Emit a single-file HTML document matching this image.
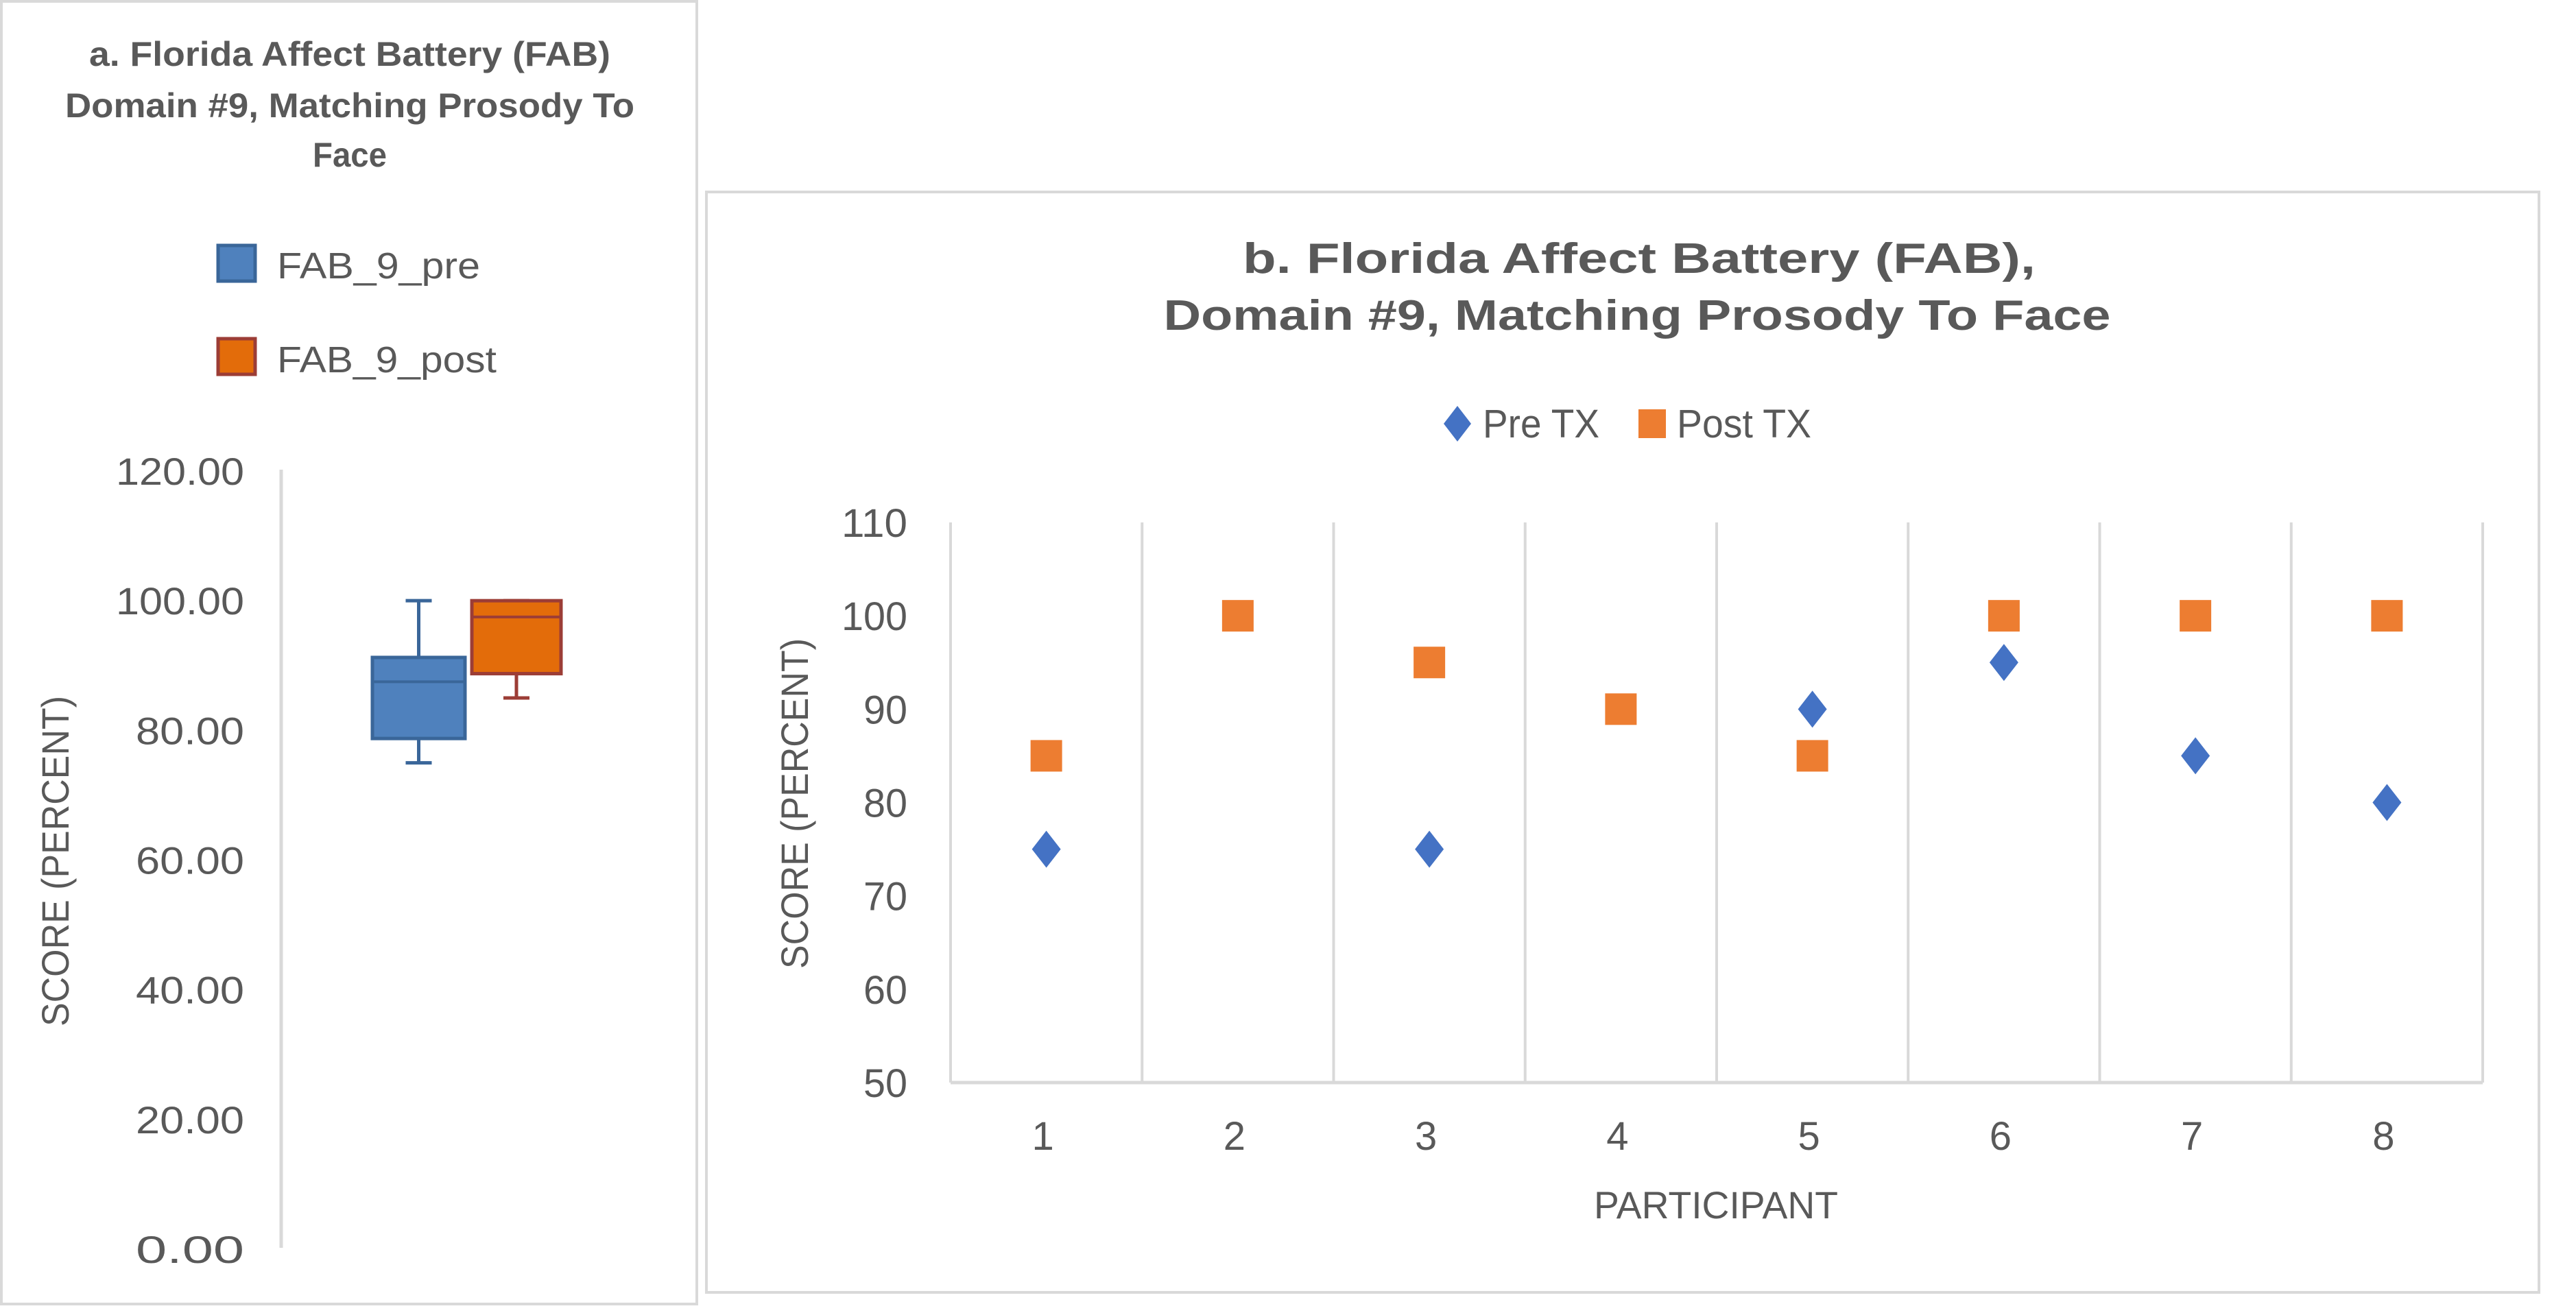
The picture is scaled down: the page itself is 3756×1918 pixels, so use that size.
<!DOCTYPE html>
<html><head><meta charset="utf-8"><style>
html,body{margin:0;padding:0;background:#fff;}
svg{display:block;font-family:"Liberation Sans",sans-serif;}
</style></head><body>
<svg id="fig" width="3756" height="1918" viewBox="0 0 3756 1918" xmlns="http://www.w3.org/2000/svg">
  <rect x="0" y="0" width="3756" height="1918" fill="#fff"/>
  <g>
    <rect x="2" y="2" width="1014" height="1900" fill="#fff" stroke="#d9d9d9" stroke-width="4"/>
    <text x="510" y="96" text-anchor="middle" font-size="50" font-weight="bold" fill="#595959" textLength="760" lengthAdjust="spacingAndGlyphs">a.  Florida Affect Battery (FAB)</text>
    <text x="510" y="171" text-anchor="middle" font-size="50" font-weight="bold" fill="#595959" textLength="830" lengthAdjust="spacingAndGlyphs">Domain #9, Matching Prosody To</text>
    <text x="510" y="243" text-anchor="middle" font-size="50" font-weight="bold" fill="#595959" textLength="108" lengthAdjust="spacingAndGlyphs">Face</text>
    <g>
      <rect x="318" y="358" width="54" height="52" fill="#4f81bd" stroke="#3a6699" stroke-width="5"/>
      <text x="404" y="406" font-size="54" fill="#595959" textLength="296" lengthAdjust="spacingAndGlyphs">FAB_9_pre</text>
    </g>
    <g>
      <rect x="318" y="494" width="54" height="52" fill="#e36c0a" stroke="#9c3d36" stroke-width="5"/>
      <text x="404" y="543" font-size="54" fill="#595959" textLength="320" lengthAdjust="spacingAndGlyphs">FAB_9_post</text>
    </g>
    <line x1="410" y1="685" x2="410" y2="1820" stroke="#d9d9d9" stroke-width="5"/>
    <g id="aTicks"></g>
    <text transform="translate(100,1256) rotate(-90)" text-anchor="middle" font-size="56" fill="#595959" textLength="482" lengthAdjust="spacingAndGlyphs">SCORE (PERCENT)</text>
    <g id="aBoxes"></g>
  </g>
  <g>
    <rect x="1030" y="280" width="2672" height="1605" fill="#fff" stroke="#d9d9d9" stroke-width="4"/>
    <text x="2390" y="398" text-anchor="middle" font-size="62" font-weight="bold" fill="#595959" textLength="1156" lengthAdjust="spacingAndGlyphs">b.  Florida Affect Battery (FAB),</text>
    <text x="2387" y="481" text-anchor="middle" font-size="62" font-weight="bold" fill="#595959" textLength="1381" lengthAdjust="spacingAndGlyphs">Domain #9, Matching Prosody To Face</text>
    <g>
      <polygon points="2125,592 2145,618 2125,644 2105,618" fill="#4472c4"/>
      <text x="2162" y="638" font-size="58" fill="#595959" textLength="170" lengthAdjust="spacingAndGlyphs">Pre TX</text>
    </g>
    <g>
      <rect x="2389" y="597" width="40" height="42" fill="#ed7d31"/>
      <text x="2445" y="638" font-size="58" fill="#595959" textLength="196" lengthAdjust="spacingAndGlyphs">Post TX</text>
    </g>
    <g id="bGrid"></g>
    <g id="bTicks"></g>
    <text transform="translate(1178,1172) rotate(-90)" text-anchor="middle" font-size="56" fill="#595959" textLength="482" lengthAdjust="spacingAndGlyphs">SCORE (PERCENT)</text>
    <text x="2502" y="1777" text-anchor="middle" font-size="56" fill="#595959" textLength="356" lengthAdjust="spacingAndGlyphs">PARTICIPANT</text>
    <g id="bMarks"></g>
  </g>
</svg>
<script>
const aTickValues = [0, 20, 40, 60, 80, 100, 120];
const aTickLabels = ["0.00", "20.00", "40.00", "60.00", "80.00", "100.00", "120.00"];
const boxNames = ["FAB_9_pre", "FAB_9_post"];
const boxMin = [75, 85];
const boxQ1 = [78.75, 88.75];
const boxMedian = [87.5, 97.5];
const boxQ3 = [91.25, 100];
const boxMax = [100, 100];
const participants = ["1", "2", "3", "4", "5", "6", "7", "8"];
const preTX = [75, null, 75, null, 90, 95, 85, 80];
const postTX = [85, 100, 95, 90, 85, 100, 100, 100];
const bTickValues = [50, 60, 70, 80, 90, 100, 110];

const NS = "http://www.w3.org/2000/svg";
function mk(tag, attrs, parent) {
  const e = document.createElementNS(NS, tag);
  for (const k in attrs) e.setAttribute(k, attrs[k]);
  parent.appendChild(e);
  return e;
}
const aY = v => 1822 - (v - 0) * (1822 - 687) / 120;
const aBoxLeft = [543, 688], aBoxW = [135, 130];
const aTicks = document.getElementById("aTicks");
aTickValues.forEach((v, i) => {
  const t = mk("text", {x: 356, y: aY(v) + 20, "text-anchor": "end", "font-size": 56, fill: "#595959", textLength: aTickLabels[i].length === 6 ? 187 : 158, lengthAdjust: "spacingAndGlyphs"}, aTicks);
  t.textContent = aTickLabels[i];
  
  
});
const aBoxes = document.getElementById("aBoxes");
const fills = ["#4f81bd", "#e36c0a"], strokes = ["#3a6699", "#9c3d36"];
boxNames.forEach((n, i) => {
  const g = mk("g", {}, aBoxes);
  
  
  const x0 = aBoxLeft[i], w = aBoxW[i], cx = x0 + w / 2;
  mk("line", {x1: cx, x2: cx, y1: aY(boxMax[i]), y2: aY(boxQ3[i]), stroke: strokes[i], "stroke-width": 5}, g);
  mk("line", {x1: cx, x2: cx, y1: aY(boxQ1[i]), y2: aY(boxMin[i]), stroke: strokes[i], "stroke-width": 5}, g);
  mk("line", {x1: cx - 19, x2: cx + 19, y1: aY(boxMax[i]), y2: aY(boxMax[i]), stroke: strokes[i], "stroke-width": 5}, g);
  mk("line", {x1: cx - 19, x2: cx + 19, y1: aY(boxMin[i]), y2: aY(boxMin[i]), stroke: strokes[i], "stroke-width": 5}, g);
  mk("rect", {x: x0, y: aY(boxQ3[i]), width: w, height: aY(boxQ1[i]) - aY(boxQ3[i]), fill: fills[i], stroke: strokes[i], "stroke-width": 5}, g);
  mk("line", {x1: x0, x2: x0 + w, y1: aY(boxMedian[i]), y2: aY(boxMedian[i]), stroke: strokes[i], "stroke-width": 4}, g);
});
const bL = 1386, bR = 3620, bTop = 762, bBot = 1579;
const bY = v => bBot - (v - 50) * (bBot - bTop) / 60;
const bw = (bR - bL) / participants.length;
const bX = i => bL + bw * (i + 0.5);
const bGrid = document.getElementById("bGrid");
for (let i = 0; i <= participants.length; i++) {
  const l = mk("line", {x1: bL + bw * i, x2: bL + bw * i, y1: bTop, y2: bBot, stroke: "#d9d9d9", "stroke-width": 4}, bGrid);
  
  
}
const xa = mk("line", {x1: bL, x2: bR, y1: bBot, y2: bBot, stroke: "#d9d9d9", "stroke-width": 5}, bGrid);


const bTicks = document.getElementById("bTicks");
bTickValues.forEach(v => {
  const t = mk("text", {x: 1323, y: bY(v) + 21, "text-anchor": "end", "font-size": 58, fill: "#595959", textLength: String(v).length * 32, lengthAdjust: "spacingAndGlyphs"}, bTicks);
  t.textContent = String(v);
  
  
});
participants.forEach((p, i) => {
  const t = mk("text", {x: bX(i) - 5, y: 1677, "text-anchor": "middle", "font-size": 58, fill: "#595959"}, bTicks);
  t.textContent = p;
  
  
});
const bMarks = document.getElementById("bMarks");
postTX.forEach((v, i) => {
  if (v == null) return;
  const cx = bX(i), cy = bY(v);
  const r = mk("rect", {x: cx - 23, y: cy - 23, width: 46, height: 46, fill: "#ed7d31"}, bMarks);
  
  
});
preTX.forEach((v, i) => {
  if (v == null) return;
  const cx = bX(i), cy = bY(v);
  const d = mk("polygon", {points: `${cx},${cy - 27} ${cx + 21},${cy} ${cx},${cy + 27} ${cx - 21},${cy}`, fill: "#4472c4"}, bMarks);
  
  
});
</script>
</body></html>
